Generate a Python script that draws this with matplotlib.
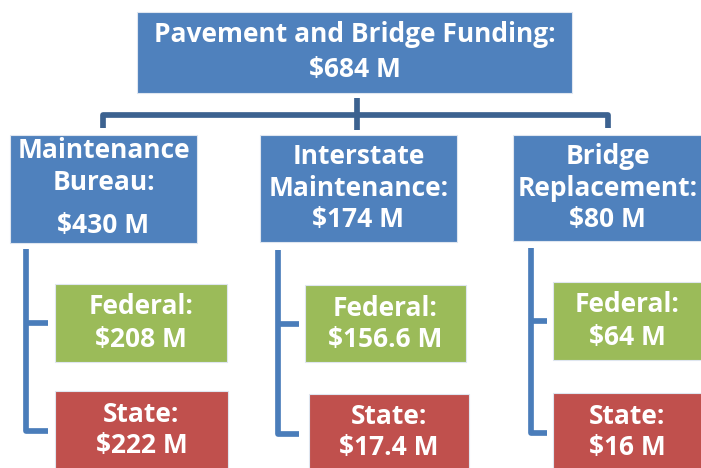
import matplotlib.pyplot as plt
from matplotlib.patches import Rectangle
from matplotlib import font_manager

# ----------------------------------------------------------
# Data
# ----------------------------------------------------------
title = "Pavement and Bridge Funding:"
total = 684
programs = [["Maintenance", "Bureau:"], ["Interstate", "Maintenance:"], ["Bridge", "Replacement:"]]
program_totals = [430, 174, 80]
federal = [208, 156.6, 64]
state = [222, 17.4, 16]

BLUE = "#4F81BD"
GREEN = "#9BBB59"
RED = "#C0504D"
LINE_TOP = "#3C6290"
LINE_SIDE = "#4A7DBA"
LW = 4.1

# pick a bold sans font if present
names = {f.name for f in font_manager.fontManager.ttflist}
family = [n for n in ["Liberation Sans Narrow", "Open Sans", "DejaVu Sans"] if n in names]
plt.rcParams['font.family'] = family
FS = 19


def money(v):
    return f"${v:g} M"


def box(ax, x0, y0, x1, y1, color):
    ax.add_patch(Rectangle((x0, y0), x1 - x0, y1 - y0, facecolor=color,
                           edgecolor="#dfe6f0", linewidth=0.8, zorder=2))


def label(ax, x, y, s):
    ax.text(x, y, s, color="white", fontsize=FS, fontweight="bold",
            ha="center", va="center", zorder=3)


fig = plt.figure(figsize=(7.01, 4.68), dpi=100)
ax = fig.add_axes([0, 0, 1, 1])
ax.set_xlim(0, 701)
ax.set_ylim(468, 0)
ax.axis("off")

# ----------------------------------------------------------
# Top box + connector
# ----------------------------------------------------------
box(ax, 137, 12, 572, 93, BLUE)
label(ax, 355, 35, title)
label(ax, 355, 70, money(total))

ax.plot([357, 357], [98, 130], color=LINE_TOP, lw=LW, solid_capstyle="butt", zorder=1)
ax.plot([103, 103, 608, 608], [128, 115, 115, 128], color=LINE_TOP, lw=LW,
        solid_capstyle="butt", solid_joinstyle="round", zorder=1)

# ----------------------------------------------------------
# Program boxes
# ----------------------------------------------------------
mid_x = [(10, 197), (260, 457), (513, 702)]
mid_y = [(135, 243), (135, 242), (135, 241)]
line_y = [(151, 183, 226), (157, 189, 220), (157, 189, 220)]
for i in range(3):
    x0, x1 = mid_x[i]
    y0, y1 = mid_y[i]
    box(ax, x0, y0, x1, y1, BLUE)
    cx = (x0 + x1) / 2
    ly = line_y[i]
    label(ax, cx, ly[0], programs[i][0])
    label(ax, cx, ly[1], programs[i][1])
    label(ax, cx, ly[2], money(program_totals[i]))

# ----------------------------------------------------------
# Federal / State boxes with brackets
# ----------------------------------------------------------
bracket_x = [25.5, 277.5, 531]
bracket_y = [(249, 431), (250, 434), (248, 433)]
tick_end = [48, 299, 547]
fed_box = [(55, 284, 227, 362), (305, 285, 466, 362), (553, 282, 702, 360)]
st_box = [(55, 391, 228, 470), (309, 394, 469, 470), (553, 393, 702, 470)]
fed_tick = [322.5, 324, 321]

for i in range(3):
    bx = bracket_x[i]
    yb0, yb1 = bracket_y[i]
    ax.plot([bx, bx, tick_end[i]], [yb0, yb1, yb1], color=LINE_SIDE, lw=LW,
            solid_capstyle="butt", solid_joinstyle="round", zorder=1)
    ax.plot([bx, tick_end[i]], [fed_tick[i], fed_tick[i]], color=LINE_SIDE, lw=LW,
            solid_capstyle="butt", zorder=1)

    x0, y0, x1, y1 = fed_box[i]
    box(ax, x0, y0, x1, y1, GREEN)
    cx = (x0 + x1) / 2
    label(ax, cx, y0 + 23, "Federal:")
    label(ax, cx, y0 + 55, money(federal[i]))

    x0, y0, x1, y1 = st_box[i]
    box(ax, x0, y0, x1, y1, RED)
    cx = (x0 + x1) / 2
    label(ax, cx, y0 + 23, "State:")
    label(ax, cx, y0 + 54, money(state[i]))

fig.savefig("out.png", dpi=100)
